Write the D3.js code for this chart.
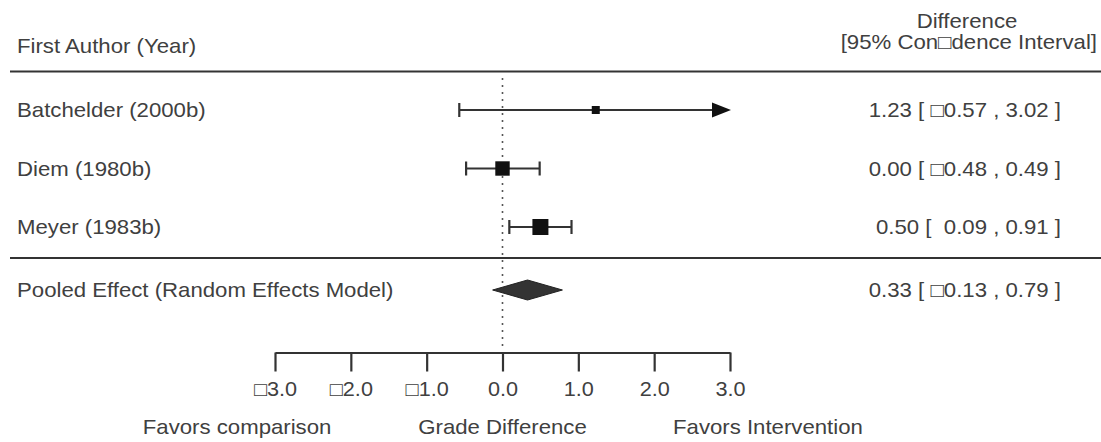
<!DOCTYPE html>
<html>
<head>
<meta charset="utf-8">
<script src="https://cdn.jsdelivr.net/npm/d3@7"></script>
<style>
  html, body { margin: 0; padding: 0; background: #fff; }
  svg { display: block; }
  text { font-family: "Liberation Sans", Arial, sans-serif; fill: #404040; white-space: pre; }
</style>
</head>
<body>
<svg id="chart" width="1101" height="442"></svg>
<script>
// ---- data ----
const studies = ["Batchelder (2000b)", "Diem (1980b)", "Meyer (1983b)"];
const estimates = [1.23, 0.00, 0.50];
const lowers = [-0.57, -0.48, 0.09];
const uppers = [3.02, 0.49, 0.91];
const pooledLabel = "Pooled Effect (Random Effects Model)";
const pooledEstimate = 0.33;
const pooledLower = -0.13;
const pooledUpper = 0.79;
const tickValues = [-3, -2, -1, 0, 1, 2, 3];
const tickLabels = ["\u25A13.0", "\u25A12.0", "\u25A11.0", "0.0", "1.0", "2.0", "3.0"];
const headerLeft = "First Author (Year)";
const headerRight = ["Difference", "[95% Con\u25A1dence Interval]"];
const axisTitles = ["Favors comparison", "Grade Difference", "Favors Intervention"];
const axisTitleAt = [-3.5, 0, 3.5];

// ---- layout ----
const svg = d3.select("#chart");
const FS = 20;
const SX = 1.11;
const ink = "#333";

const x = d3.scaleLinear().domain([-3, 3]).range([275, 730]);
const y = d3.scalePoint().domain(studies).range([110, 227]);
const pooledY = 290;
const axisY = 352.5;

function fmt(v) {
  return (v < 0 ? "\u25A1" : " ") + Math.abs(v).toFixed(2);
}
function label(g, txt, px, py, anchor, size) {
  return g.append("text")
    .attr("transform", `translate(${px},${py}) scale(${SX},1)`)
    .attr("text-anchor", anchor)
    .attr("font-size", size || FS)
    .text(txt);
}

// header
label(svg, headerLeft, 17, 53, "start");
label(svg, headerRight[0], 967, 28, "middle");
label(svg, headerRight[1], 1097, 49, "end");

// separator lines
svg.append("line").attr("x1", 10).attr("x2", 1101).attr("y1", 71.5).attr("y2", 71.5)
  .attr("stroke", ink).attr("stroke-width", 2.2);
svg.append("line").attr("x1", 10).attr("x2", 1101).attr("y1", 258).attr("y2", 258)
  .attr("stroke", ink).attr("stroke-width", 2.2);

// reference line at 0
svg.append("line").attr("x1", x(0)).attr("x2", x(0)).attr("y1", 78).attr("y2", 348)
  .attr("stroke", "#555").attr("stroke-width", 1.6).attr("stroke-dasharray", "2,5");

// box sizes from precision (1/SE from CI width)
const precision = studies.map((s, i) => 3.92 / (uppers[i] - lowers[i]));
const boxSize = d3.scaleLinear().domain(d3.extent(precision)).range([8, 16]);

const rows = studies.map((s, i) => ({
  name: s, est: estimates[i], lb: lowers[i], ub: uppers[i], prec: precision[i]
}));

const g = svg.append("g");
rows.forEach(d => {
  const yy = y(d.name);
  const [lo, hi] = x.domain();
  const left = Math.max(d.lb, lo);
  const rightArrow = d.ub > hi;
  const right = rightArrow ? hi : d.ub;
  const xl = x(left), xr = rightArrow ? x(right) - 16 : x(right);
  g.append("line").attr("x1", xl).attr("x2", xr).attr("y1", yy).attr("y2", yy)
    .attr("stroke", ink).attr("stroke-width", 2.2);
  g.append("line").attr("x1", xl).attr("x2", xl).attr("y1", yy - 7).attr("y2", yy + 7)
    .attr("stroke", ink).attr("stroke-width", 2.2);
  if (rightArrow) {
    const tip = x(right) + 1;
    g.append("path")
      .attr("d", `M${tip},${yy} L${tip - 19},${yy - 7.5} L${tip - 19},${yy + 7.5} Z`)
      .attr("fill", "#111");
  } else {
    g.append("line").attr("x1", xr).attr("x2", xr).attr("y1", yy - 7).attr("y2", yy + 7)
      .attr("stroke", ink).attr("stroke-width", 2.2);
  }
  const s = boxSize(d.prec);
  g.append("rect").attr("x", x(d.est) - s / 2).attr("y", yy - s / 2)
    .attr("width", s).attr("height", s).attr("fill", "#111");

  label(svg, d.name, 17, yy, "start").attr("dy", "0.36em");
  label(svg, `${d.est.toFixed(2)} [ ${fmt(d.lb)} , ${d.ub.toFixed(2)} ]`, 1061, yy, "end")
    .attr("dy", "0.36em");
});

// pooled diamond
svg.append("path")
  .attr("d", `M${x(pooledLower)},${pooledY} L${x(pooledEstimate)},${pooledY - 10} L${x(pooledUpper)},${pooledY} L${x(pooledEstimate)},${pooledY + 10} Z`)
  .attr("fill", "#333").attr("stroke", "#222").attr("stroke-width", 1);
label(svg, pooledLabel, 17, pooledY, "start").attr("dy", "0.36em");
label(svg, `${pooledEstimate.toFixed(2)} [ ${fmt(pooledLower)} , ${pooledUpper.toFixed(2)} ]`, 1061, pooledY, "end")
  .attr("dy", "0.36em");

// axis
const axis = d3.axisBottom(x).tickValues(tickValues)
  .tickFormat((d, i) => tickLabels[i]).tickSize(19).tickSizeOuter(0).tickPadding(11);
const ag = svg.append("g").attr("transform", `translate(0,${axisY})`).call(axis);
ag.select(".domain").attr("stroke", ink).attr("stroke-width", 2.2);
ag.selectAll(".tick line").attr("stroke", ink).attr("stroke-width", 2.2);
ag.selectAll(".tick text")
  .attr("font-size", 19.5).attr("font-family", null)
  .attr("transform", `scale(${SX},1)`).attr("fill", "#404040");

// axis titles
axisTitles.forEach((t, i) => {
  label(svg, t, x(axisTitleAt[i]), 434, "middle");
});
</script>
</body>
</html>
